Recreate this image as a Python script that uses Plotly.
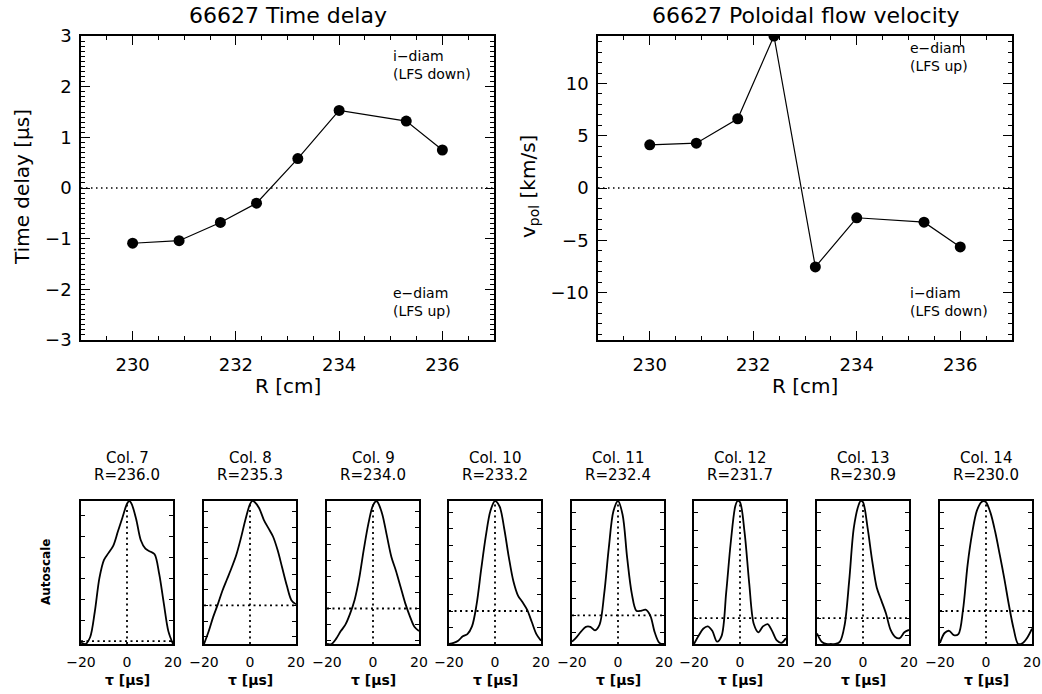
import plotly.graph_objects as go

W, H = 1042, 694
FONT = "DejaVu Sans"

# Radial positions of the probe columns [cm]
R_cm = [230.0, 230.9, 231.7, 232.4, 233.2, 234.0, 235.3, 236.0]
# Time delay of the cross-correlation peak [us]
time_delay = [-1.09, -1.04, -0.68, -0.30, 0.58, 1.53, 1.32, 0.75]
# Poloidal flow velocity [km/s]
v_pol = [4.13, 4.29, 6.63, 14.55, -7.56, -2.85, -3.27, -5.64]

# Cross-correlation functions of the individual columns (normalised to peak)
col_numbers = [7, 8, 9, 10, 11, 12, 13, 14]
col_R = [236.0, 235.3, 234.0, 233.2, 232.4, 231.7, 230.9, 230.0]

tau_c7 = [-20, -18, -16, -14, -12, -10, -8, -6, -4, -2, 0, 1, 2, 4, 6, 8, 10, 12, 14, 16, 18, 20]
corr_c7 = [-0.01, -0.02, 0.03, 0.21, 0.45, 0.58, 0.63, 0.68, 0.78, 0.88, 0.98, 1.0, 0.98, 0.87,
           0.72, 0.66, 0.64, 0.62, 0.48, 0.27, 0.07, -0.02]

tau_c8 = [-20, -18, -16, -14, -12, -10, -8, -6, -4, -2, 0, 1, 2, 4, 6, 8, 10, 12, 14, 16, 18, 20]
corr_c8 = [-0.37, -0.25, -0.11, 0.01, 0.14, 0.25, 0.36, 0.48, 0.64, 0.82, 0.97, 1.0, 0.99, 0.93,
           0.82, 0.74, 0.66, 0.53, 0.36, 0.19, 0.05, 0.01]

tau_c9 = [-20, -18, -16, -14, -12, -10, -8, -6, -4, -2, 0, 1.5, 2, 4, 6, 8, 10, 12, 14, 16, 18, 20]
corr_c9 = [-0.33, -0.33, -0.28, -0.21, -0.15, -0.05, 0.08, 0.28, 0.55, 0.79, 0.96, 1.0, 0.99, 0.88,
           0.68, 0.48, 0.35, 0.20, 0.05, -0.07, -0.17, -0.21]

tau_c10 = [-20, -18, -16, -14, -12, -10, -8, -6, -4, -2, 0, 2, 4, 6, 8, 10, 12, 14, 16, 18, 20]
corr_c10 = [-0.30, -0.29, -0.27, -0.23, -0.21, -0.14, 0.06, 0.38, 0.68, 0.91, 1.0, 0.95, 0.75,
            0.49, 0.27, 0.14, 0.08, 0.01, -0.10, -0.21, -0.27]

tau_c11 = [-20, -18, -16, -14, -12, -10, -8, -6, -4, -2, 0, 2, 4, 6, 8, 10, 12, 14, 16, 18, 20]
corr_c11 = [-0.23, -0.19, -0.14, -0.10, -0.10, -0.13, -0.08, 0.19, 0.59, 0.91, 1.0, 0.88, 0.50,
            0.19, 0.04, 0.04, 0.05, 0.0, -0.15, -0.24, -0.25]

tau_c12 = [-20, -18, -16, -14, -12, -10, -8, -6, -4, -2, -1, 0, 2, 4, 6, 8, 10, 12, 14, 16, 18, 20]
corr_c12 = [-0.22, -0.15, -0.09, -0.07, -0.11, -0.20, -0.15, 0.22, 0.65, 0.96, 1.0, 0.99, 0.73,
            0.30, -0.05, -0.12, -0.07, -0.05, -0.11, -0.19, -0.21, -0.17]

tau_c13 = [-20, -18, -16, -14, -12, -10, -8, -6, -4, -2, -1, 0, 2, 4, 6, 8, 10, 12, 14, 16, 18, 20]
corr_c13 = [-0.13, -0.20, -0.22, -0.22, -0.22, -0.20, -0.06, 0.32, 0.77, 0.96, 1.0, 0.99, 0.77,
            0.49, 0.26, 0.15, 0.04, -0.10, -0.16, -0.17, -0.12, -0.10]

tau_c14 = [-20, -18, -16, -14, -12, -10, -8, -6, -4, -2, -1, 0, 2, 4, 6, 8, 10, 12, 14, 16, 18, 20]
corr_c14 = [-0.29, -0.20, -0.18, -0.22, -0.21, 0.01, 0.42, 0.71, 0.91, 0.99, 1.0, 0.99, 0.89,
            0.72, 0.51, 0.29, 0.05, -0.16, -0.30, -0.29, -0.24, -0.16]

taus = [tau_c7, tau_c8, tau_c9, tau_c10, tau_c11, tau_c12, tau_c13, tau_c14]
corrs = [corr_c7, corr_c8, corr_c9, corr_c10, corr_c11, corr_c12, corr_c13, corr_c14]


def px_x(p):
    return p / W


def px_y(p):
    return 1 - p / H


fig = go.Figure()

tick_font = dict(family=FONT, size=18, color="black")
box = dict(showline=True, linecolor="black", linewidth=1.6, mirror="ticks",
           showgrid=False, zeroline=False, ticks="inside", tickcolor="black",
           tickwidth=1, tickfont=tick_font)

# ---- top row: time delay and poloidal velocity profiles ----
fig.add_trace(go.Scatter(x=R_cm, y=time_delay, mode="lines+markers",
                         line=dict(color="black", width=1.2),
                         marker=dict(color="black", size=11),
                         xaxis="x", yaxis="y", showlegend=False))
fig.add_trace(go.Scatter(x=R_cm, y=v_pol, mode="lines+markers",
                         line=dict(color="black", width=1.2),
                         marker=dict(color="black", size=11),
                         xaxis="x2", yaxis="y2", showlegend=False))

vmax = max(abs(v) for v in v_pol)
top_y = [px_y(340), px_y(36)]

layout = dict(
    width=W, height=H, margin=dict(l=0, r=0, t=0, b=0, pad=0, autoexpand=False),
    paper_bgcolor="white", plot_bgcolor="white", showlegend=False,
    font=dict(family=FONT, color="black"),
    xaxis=dict(box, domain=[px_x(81), px_x(494)], range=[229, 237], dtick=2, tick0=230,
               ticklen=9, ticklabelstandoff=8, anchor="y",
               minor=dict(dtick=0.5, tick0=229, ticks="inside", ticklen=4, tickcolor="black")),
    yaxis=dict(box, domain=top_y, range=[-3, 3], dtick=1, tick0=0, ticklen=9,
               ticklabelstandoff=4, anchor="x",
               minor=dict(dtick=0.1, tick0=0, ticks="inside", ticklen=4, tickcolor="black")),
    xaxis2=dict(box, domain=[px_x(598), px_x(1012)], range=[229, 237], dtick=2, tick0=230,
                ticklen=9, ticklabelstandoff=8, anchor="y2",
                minor=dict(dtick=0.5, tick0=229, ticks="inside", ticklen=4, tickcolor="black")),
    yaxis2=dict(box, domain=top_y, range=[-vmax, vmax], dtick=5, tick0=0, ticklen=9,
                ticklabelstandoff=4, anchor="x2",
                minor=dict(dtick=1, tick0=0, ticks="inside", ticklen=4, tickcolor="black")),
)

shapes = []
dot_top = dict(color="black", width=1.3, dash="1.5px,3.5px")
for xr, yr in [("x", "y"), ("x2", "y2")]:
    shapes.append(dict(type="line", xref=f"{xr} domain", x0=0, x1=1, yref=yr, y0=0, y1=0,
                       line=dot_top, layer="below"))

annotations = []


def text(x, y, s, size, xanchor="center", yanchor="middle", **kw):
    d = dict(x=px_x(x), y=px_y(y), xref="paper", yref="paper", text=s, showarrow=False,
             xanchor=xanchor, yanchor=yanchor,
             font=dict(family=FONT, size=size, color="black"))
    d.update(kw)
    annotations.append(d)


text(287.5, 15, "66627 Time delay", 22)
text(805, 15, "66627 Poloidal flow velocity", 22)
text(287.5, 386, "R [cm]", 20)
text(805, 386, "R [cm]", 20)
text(22, 187, "Time delay [μs]", 20, textangle=-90)
text(529, 187, "v<sub>pol</sub> [km/s]", 20, textangle=-90)
text(391, 46, "i−diam<br>(LFS down)", 14, xanchor="left", yanchor="top", align="left")
text(391, 283, "e−diam<br>(LFS up)", 14, xanchor="left", yanchor="top", align="left")
text(908, 38, "e−diam<br>(LFS up)", 14, xanchor="left", yanchor="top", align="left")
text(908, 283, "i−diam<br>(LFS down)", 14, xanchor="left", yanchor="top", align="left")

# ---- bottom row: correlation functions for each column ----
panel_left = [81, 204, 327, 449, 572, 694, 817, 940]
panel_w = 92
bot_y = [px_y(644), px_y(501)]
dot_bot = dict(color="black", width=1.8, dash="2px,3.5px")

for i in range(8):
    n = i + 3
    xa, ya = f"x{n}", f"y{n}"
    fig.add_trace(go.Scatter(x=taus[i], y=corrs[i], mode="lines",
                             line=dict(color="black", width=1.8, shape="spline", smoothing=0.9),
                             xaxis=xa, yaxis=ya, showlegend=False))
    lo, hi = min(corrs[i]), max(corrs[i])
    layout[f"xaxis{n}"] = dict(
        domain=[px_x(panel_left[i]), px_x(panel_left[i] + panel_w)], range=[-20, 20],
        showline=True, linecolor="black", linewidth=1.6, mirror=True, showgrid=False,
        zeroline=False, ticks="", tickvals=[-20, 0, 20], ticklabelstandoff=4,
        tickfont=dict(family=FONT, size=14, color="black"), anchor=ya)
    layout[f"yaxis{n}"] = dict(
        domain=bot_y, range=[lo, hi], showline=True, linecolor="black", linewidth=1.6,
        mirror="ticks", showgrid=False, zeroline=False, ticks="inside", ticklen=4,
        tickcolor="black", dtick=0.15, tick0=0, showticklabels=False, anchor=xa)
    shapes.append(dict(type="line", xref=f"{xa} domain", x0=0, x1=1, yref=ya, y0=0, y1=0,
                       line=dot_bot, layer="below"))
    shapes.append(dict(type="line", xref=xa, x0=0, x1=0, yref=f"{ya} domain", y0=0, y1=1,
                       line=dot_bot, layer="below"))
    cx = panel_left[i] + panel_w / 2
    text(cx, 457.5, f"Col. {col_numbers[i]}", 15)
    text(cx, 475, f"R={col_R[i]:.1f}", 15)
    text(cx, 680, "<b>τ [μs]</b>", 14)

text(46, 572, "<b>Autoscale</b>", 12, textangle=-90)

layout["shapes"] = shapes
layout["annotations"] = annotations
fig.update_layout(layout)
fig.write_html("out.html")
